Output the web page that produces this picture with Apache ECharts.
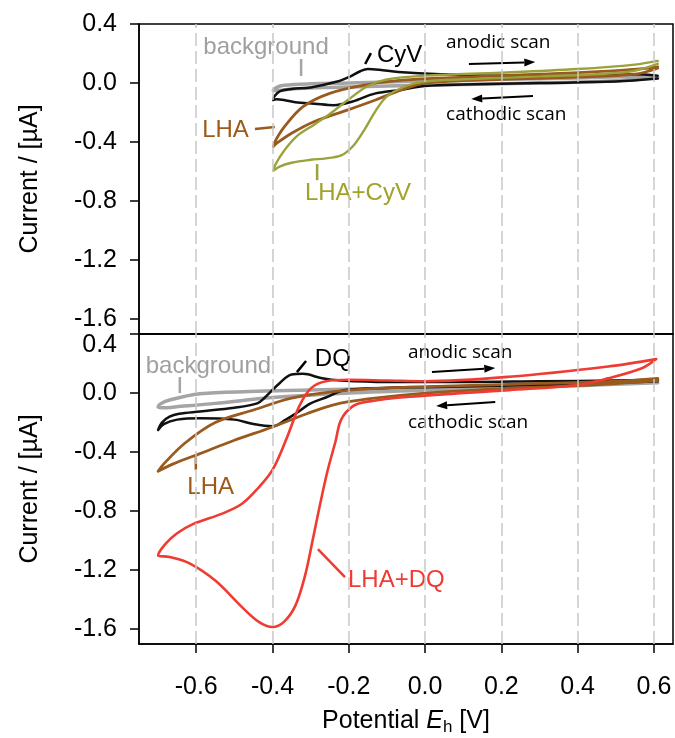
<!DOCTYPE html>
<html>
<head>
<meta charset="utf-8">
<script src="https://cdn.jsdelivr.net/npm/echarts@6/dist/echarts.min.js"></script>
<style>
  html, body { margin: 0; padding: 0; background: #fff; }
  #chart { width: 675px; height: 738px; }
</style>
</head>
<body>
<div id="chart"></div>
<script>
// Axis ticks (potential in V, current in µA)
const xTicks = [-0.6, -0.4, -0.2, 0.0, 0.2, 0.4, 0.6];
const yTicks = [-1.6, -1.2, -0.8, -0.4, 0.0, 0.4];

// Each voltammogram is one closed loop: cathodic scan (right -> left), then anodic scan (left -> right)
// Upper panel: CyV
const bgTop = [
  [0.61, 0.035], [0.5, 0.015], [0.3, 0.0], [0.1, -0.01], [-0.1, -0.02], [-0.25, -0.03], [-0.35, -0.04], [-0.385, -0.05], [-0.398, -0.05],
  [-0.39, -0.03], [-0.37, -0.015], [-0.3, -0.005], [-0.2, 0.0], [0.0, 0.015], [0.2, 0.025], [0.4, 0.035], [0.55, 0.045], [0.61, 0.04]
];
const cyvTop = [
  [0.61, 0.03], [0.5, 0.01], [0.3, 0.0], [0.1, -0.01], [0.0, -0.02], [-0.06, -0.045], [-0.13, -0.07], [-0.19, -0.125], [-0.24, -0.15],
  [-0.29, -0.14], [-0.34, -0.13], [-0.37, -0.115], [-0.39, -0.11], [-0.398, -0.115],
  [-0.395, -0.09], [-0.38, -0.055], [-0.35, -0.04], [-0.3, -0.03], [-0.23, 0.01], [-0.2, 0.04], [-0.17, 0.08], [-0.15, 0.095],
  [-0.12, 0.09], [-0.07, 0.075], [0.04, 0.06], [0.2, 0.05], [0.4, 0.05], [0.55, 0.06], [0.61, 0.05]
];
const lhaTop = [
  [0.61, 0.1], [0.55, 0.06], [0.4, 0.04], [0.2, 0.025], [0.0, 0.0], [-0.06, -0.045], [-0.13, -0.115], [-0.2, -0.18], [-0.29, -0.26],
  [-0.35, -0.34], [-0.39, -0.41], [-0.398, -0.43],
  [-0.39, -0.38], [-0.37, -0.3], [-0.32, -0.16], [-0.25, -0.07], [-0.16, -0.014], [-0.06, 0.02], [0.1, 0.04], [0.3, 0.06],
  [0.45, 0.077], [0.58, 0.1], [0.61, 0.11]
];
const lhaCyvTop = [
  [0.61, 0.13], [0.53, 0.075], [0.3, 0.045], [0.1, 0.025], [0.0, 0.01], [-0.05, -0.02], [-0.1, -0.09], [-0.13, -0.19], [-0.16, -0.32],
  [-0.19, -0.43], [-0.22, -0.49], [-0.26, -0.51], [-0.3, -0.52], [-0.35, -0.54], [-0.38, -0.565], [-0.398, -0.595],
  [-0.392, -0.55], [-0.37, -0.46], [-0.336, -0.36], [-0.29, -0.28], [-0.25, -0.21], [-0.2, -0.11], [-0.15, -0.02], [-0.1, 0.025],
  [0.0, 0.05], [0.2, 0.07], [0.4, 0.095], [0.55, 0.125], [0.61, 0.15]
];

// Lower panel: DQ
const bgBottom = [
  [0.61, 0.07], [0.4, 0.05], [0.2, 0.035], [0.0, 0.02], [-0.2, 0.0], [-0.4, -0.03], [-0.55, -0.07], [-0.64, -0.09], [-0.69, -0.1], [-0.7, -0.095],
  [-0.695, -0.075], [-0.67, -0.047], [-0.59, -0.005], [-0.46, 0.01], [-0.3, 0.02], [0.0, 0.04], [0.3, 0.06], [0.61, 0.09]
];
const dqBottom = [
  [0.61, 0.08], [0.4, 0.06], [0.2, 0.05], [0.0, 0.04], [-0.1, 0.035], [-0.21, 0.02], [-0.26, -0.03], [-0.3, -0.07], [-0.34, -0.14],
  [-0.365, -0.18], [-0.4, -0.225], [-0.45, -0.21], [-0.5, -0.18], [-0.59, -0.17], [-0.65, -0.18], [-0.685, -0.21], [-0.7, -0.25],
  [-0.69, -0.2], [-0.67, -0.16], [-0.645, -0.14], [-0.59, -0.125], [-0.5, -0.1], [-0.44, -0.07], [-0.42, -0.03], [-0.38, 0.07],
  [-0.35, 0.125], [-0.32, 0.13], [-0.27, 0.1], [-0.22, 0.085], [-0.1, 0.075], [0.1, 0.075], [0.3, 0.08], [0.5, 0.085], [0.61, 0.09]
];
const lhaBottom = [
  [0.61, 0.085], [0.4, 0.05], [0.2, 0.03], [0.0, 0.0], [-0.15, -0.04], [-0.24, -0.08], [-0.31, -0.14], [-0.4, -0.23], [-0.5, -0.32],
  [-0.59, -0.41], [-0.66, -0.48], [-0.7, -0.53],
  [-0.685, -0.48], [-0.63, -0.34], [-0.55, -0.2], [-0.45, -0.115], [-0.35, -0.035], [-0.24, 0.01], [-0.1, 0.035], [0.1, 0.05],
  [0.3, 0.065], [0.5, 0.08], [0.61, 0.1]
];
const lhaDqBottom = [
  [0.606, 0.23], [0.57, 0.17], [0.48, 0.1], [0.4, 0.055], [0.22, 0.02], [-0.04, -0.025], [-0.155, -0.06], [-0.19, -0.09], [-0.22, -0.18],
  [-0.235, -0.33], [-0.255, -0.52], [-0.275, -0.75], [-0.295, -1.0], [-0.315, -1.24], [-0.34, -1.44], [-0.37, -1.55], [-0.4, -1.585],
  [-0.436, -1.55], [-0.48, -1.45], [-0.55, -1.27], [-0.62, -1.15], [-0.67, -1.11], [-0.7, -1.1],
  [-0.68, -1.02], [-0.65, -0.95], [-0.61, -0.89], [-0.53, -0.815], [-0.48, -0.75], [-0.44, -0.65], [-0.4, -0.52],
  [-0.365, -0.32], [-0.33, -0.09], [-0.3, 0.03], [-0.26, 0.08], [-0.2, 0.09], [-0.1, 0.085], [0.0, 0.08], [0.22, 0.11], [0.48, 0.18], [0.606, 0.23]
];

const ARIAL = '"Liberation Sans", Arial, sans-serif';
const MYRIAD = '"Open Sans", "Noto Sans", sans-serif';
const C = {
  gray: '#a5a5a5', black: '#111111', brown: '#9a5a1e', olive: '#9aa23c', red: '#f03b32',
  grayText: '#a0a0a0', brownText: '#9c5a1a', oliveText: '#a0a22a', redText: '#ef3b34'
};

// Annotation texts, leader lines and scan-direction arrows, in data coordinates
const notes = [
  { g: 0, t: 'background', at: [-0.417, 0.244], align: 'center', color: C.grayText, font: ARIAL, size: 24 },
  { g: 0, t: 'CyV', at: [-0.126, 0.19], align: 'left', color: '#000', font: ARIAL, size: 24 },
  { g: 0, t: 'anodic scan', at: [0.055, 0.271], align: 'left', color: '#000', font: MYRIAD, size: 19 },
  { g: 0, t: 'cathodic scan', at: [0.055, -0.217], align: 'left', color: '#000', font: MYRIAD, size: 19 },
  { g: 0, t: 'LHA', at: [-0.462, -0.319], align: 'right', color: C.brownText, font: ARIAL, size: 24 },
  { g: 0, t: 'LHA+CyV', at: [-0.315, -0.746], align: 'left', color: C.oliveText, font: ARIAL, size: 24 },
  { g: 1, t: 'background', at: [-0.568, 0.183], align: 'center', color: C.grayText, font: ARIAL, size: 24 },
  { g: 1, t: 'DQ', at: [-0.289, 0.23], align: 'left', color: '#000', font: ARIAL, size: 24 },
  { g: 1, t: 'anodic scan', at: [-0.045, 0.271], align: 'left', color: '#000', font: MYRIAD, size: 19 },
  { g: 1, t: 'cathodic scan', at: [-0.045, -0.197], align: 'left', color: '#000', font: MYRIAD, size: 19 },
  { g: 1, t: 'LHA', at: [-0.562, -0.637], align: 'center', color: C.brownText, font: ARIAL, size: 24 },
  { g: 1, t: 'LHA+DQ', at: [-0.202, -1.268], align: 'left', color: C.redText, font: ARIAL, size: 24 }
];
const leaders = [
  { g: 0, from: [-0.325, 0.163], to: [-0.325, 0.047], color: C.gray },
  { g: 0, from: [-0.157, 0.129], to: [-0.142, 0.203], color: '#000' },
  { g: 0, from: [-0.446, -0.312], to: [-0.394, -0.298], color: C.brown },
  { g: 0, from: [-0.283, -0.549], to: [-0.283, -0.658], color: C.olive },
  { g: 1, from: [-0.643, 0.108], to: [-0.643, 0.0], color: C.gray },
  { g: 1, from: [-0.336, 0.142], to: [-0.312, 0.217], color: '#000' },
  { g: 1, from: [-0.601, -0.427], to: [-0.601, -0.522], color: C.brown },
  { g: 1, from: [-0.281, -1.058], to: [-0.21, -1.247], color: C.red }
];
const arrows = [
  { g: 0, from: [0.115, 0.129], to: [0.289, 0.142] },
  { g: 0, from: [0.283, -0.088], to: [0.121, -0.108] },
  { g: 1, from: [0.018, 0.142], to: [0.184, 0.169] },
  { g: 1, from: [0.184, -0.061], to: [0.029, -0.088] }
];

const chart = echarts.init(document.getElementById('chart'), null, { renderer: 'canvas' });

const fmt = v => Number(v).toFixed(1);
function yAxis(idx) {
  return {
    type: 'value', gridIndex: idx, min: -1.7, max: 0.4,
    name: 'Current / [µA]', nameLocation: 'middle', nameGap: 96,
    nameTextStyle: { fontFamily: ARIAL, fontSize: 25, color: '#000' },
    axisLine: { show: true, onZero: false, lineStyle: { color: '#000', width: 1.5 } },
    axisTick: { show: true, customValues: yTicks, length: 9, inside: false, lineStyle: { color: '#000', width: 1.5 } },
    axisLabel: {
      customValues: yTicks, margin: 22, fontFamily: ARIAL, fontSize: 25, color: '#000',
      formatter: v => (idx === 1 && Math.abs(v - 0.4) < 1e-9) ? '{lo|0.4}' : fmt(v),
      rich: { lo: { fontFamily: ARIAL, fontSize: 25, color: '#000', padding: [22, 0, 0, 0] } }
    },
    splitLine: { show: false }
  };
}
function xAxis(idx) {
  const bottom = idx === 1;
  return {
    type: 'value', gridIndex: idx, min: -0.75, max: 0.65, position: 'bottom',
    name: bottom ? '{n|Potential }{i|E}{s|h}{n| [V]}' : '',
    nameLocation: 'middle', nameGap: 62,
    nameTextStyle: {
      fontFamily: ARIAL, fontSize: 25, color: '#000',
      rich: {
        n: { fontFamily: ARIAL, fontSize: 25, color: '#000', lineHeight: 30 },
        i: { fontFamily: ARIAL, fontSize: 25, color: '#000', fontStyle: 'italic', lineHeight: 30 },
        s: { fontFamily: ARIAL, fontSize: 17, color: '#000', lineHeight: 12, verticalAlign: 'bottom' }
      }
    },
    axisLine: { show: true, onZero: false, lineStyle: { color: '#000', width: 1.5 } },
    axisTick: { show: bottom, customValues: xTicks, length: 9, inside: false, lineStyle: { color: '#000', width: 1.5 } },
    axisLabel: { show: bottom, customValues: xTicks, margin: 31, fontFamily: ARIAL, fontSize: 25, color: '#000', formatter: fmt },
    splitLine: { show: false }
  };
}
function loop(name, data, color, width, idx) {
  return {
    type: 'line', name, data, xAxisIndex: idx, yAxisIndex: idx,
    smooth: 0.35, symbol: 'none', silent: true,
    lineStyle: { color, width, cap: 'round', join: 'round' }
  };
}
// vertical dashed guides at every potential tick
function guides(idx) {
  return {
    type: 'line', data: [], xAxisIndex: idx, yAxisIndex: idx, silent: true,
    markLine: {
      silent: true, symbol: ['none', 'none'], label: { show: false }, animation: false,
      lineStyle: { color: '#c8c8c8', width: 1.5, type: [13, 5] },
      data: xTicks.map(v => ({ xAxis: v }))
    }
  };
}

const gridBox = { left: 139, right: 2, height: 310, show: true, borderColor: '#000', borderWidth: 1.5, backgroundColor: 'transparent' };

chart.setOption({
  animation: false,
  backgroundColor: '#fff',
  grid: [
    Object.assign({ top: 24 }, gridBox),
    Object.assign({ top: 334 }, gridBox)
  ],
  xAxis: [xAxis(0), xAxis(1)],
  yAxis: [yAxis(0), yAxis(1)],
  series: [
    guides(0), guides(1),
    loop('background', bgTop, C.gray, 3.5, 0),
    loop('CyV', cyvTop, C.black, 2.5, 0),
    loop('LHA', lhaTop, C.brown, 2.8, 0),
    loop('LHA+CyV', lhaCyvTop, C.olive, 2.4, 0),
    loop('background', bgBottom, C.gray, 3.5, 1),
    loop('DQ', dqBottom, C.black, 2.5, 1),
    loop('LHA', lhaBottom, C.brown, 2.8, 1),
    loop('LHA+DQ', lhaDqBottom, C.red, 2.6, 1)
  ]
});

// Place annotations through the grids' coordinate systems
const px = (g, p) => chart.convertToPixel({ gridIndex: g }, p);
const graphics = [];
notes.forEach(n => {
  const p = px(n.g, n.at);
  graphics.push({
    type: 'text', x: p[0], y: p[1], silent: true,
    style: { text: n.t, fill: n.color, font: `${n.size}px ${n.font}`, align: n.align, verticalAlign: 'middle' }
  });
});
leaders.forEach(l => {
  const a = px(l.g, l.from), b = px(l.g, l.to);
  graphics.push({ type: 'line', silent: true, shape: { x1: a[0], y1: a[1], x2: b[0], y2: b[1] }, style: { stroke: l.color, lineWidth: 2.5 } });
});
arrows.forEach(r => {
  const a = px(r.g, r.from), b = px(r.g, r.to);
  const dx = b[0] - a[0], dy = b[1] - a[1], len = Math.hypot(dx, dy);
  const ux = dx / len, uy = dy / len, hl = 11, hw = 4;
  const bx = b[0] - ux * hl, by = b[1] - uy * hl;
  graphics.push({ type: 'line', silent: true, shape: { x1: a[0], y1: a[1], x2: bx, y2: by }, style: { stroke: '#000', lineWidth: 2 } });
  graphics.push({
    type: 'polygon', silent: true,
    shape: { points: [[b[0], b[1]], [bx - uy * hw, by + ux * hw], [bx + uy * hw, by - ux * hw]] },
    style: { fill: '#000' }
  });
});
chart.setOption({ graphic: graphics });
</script>
</body>
</html>
